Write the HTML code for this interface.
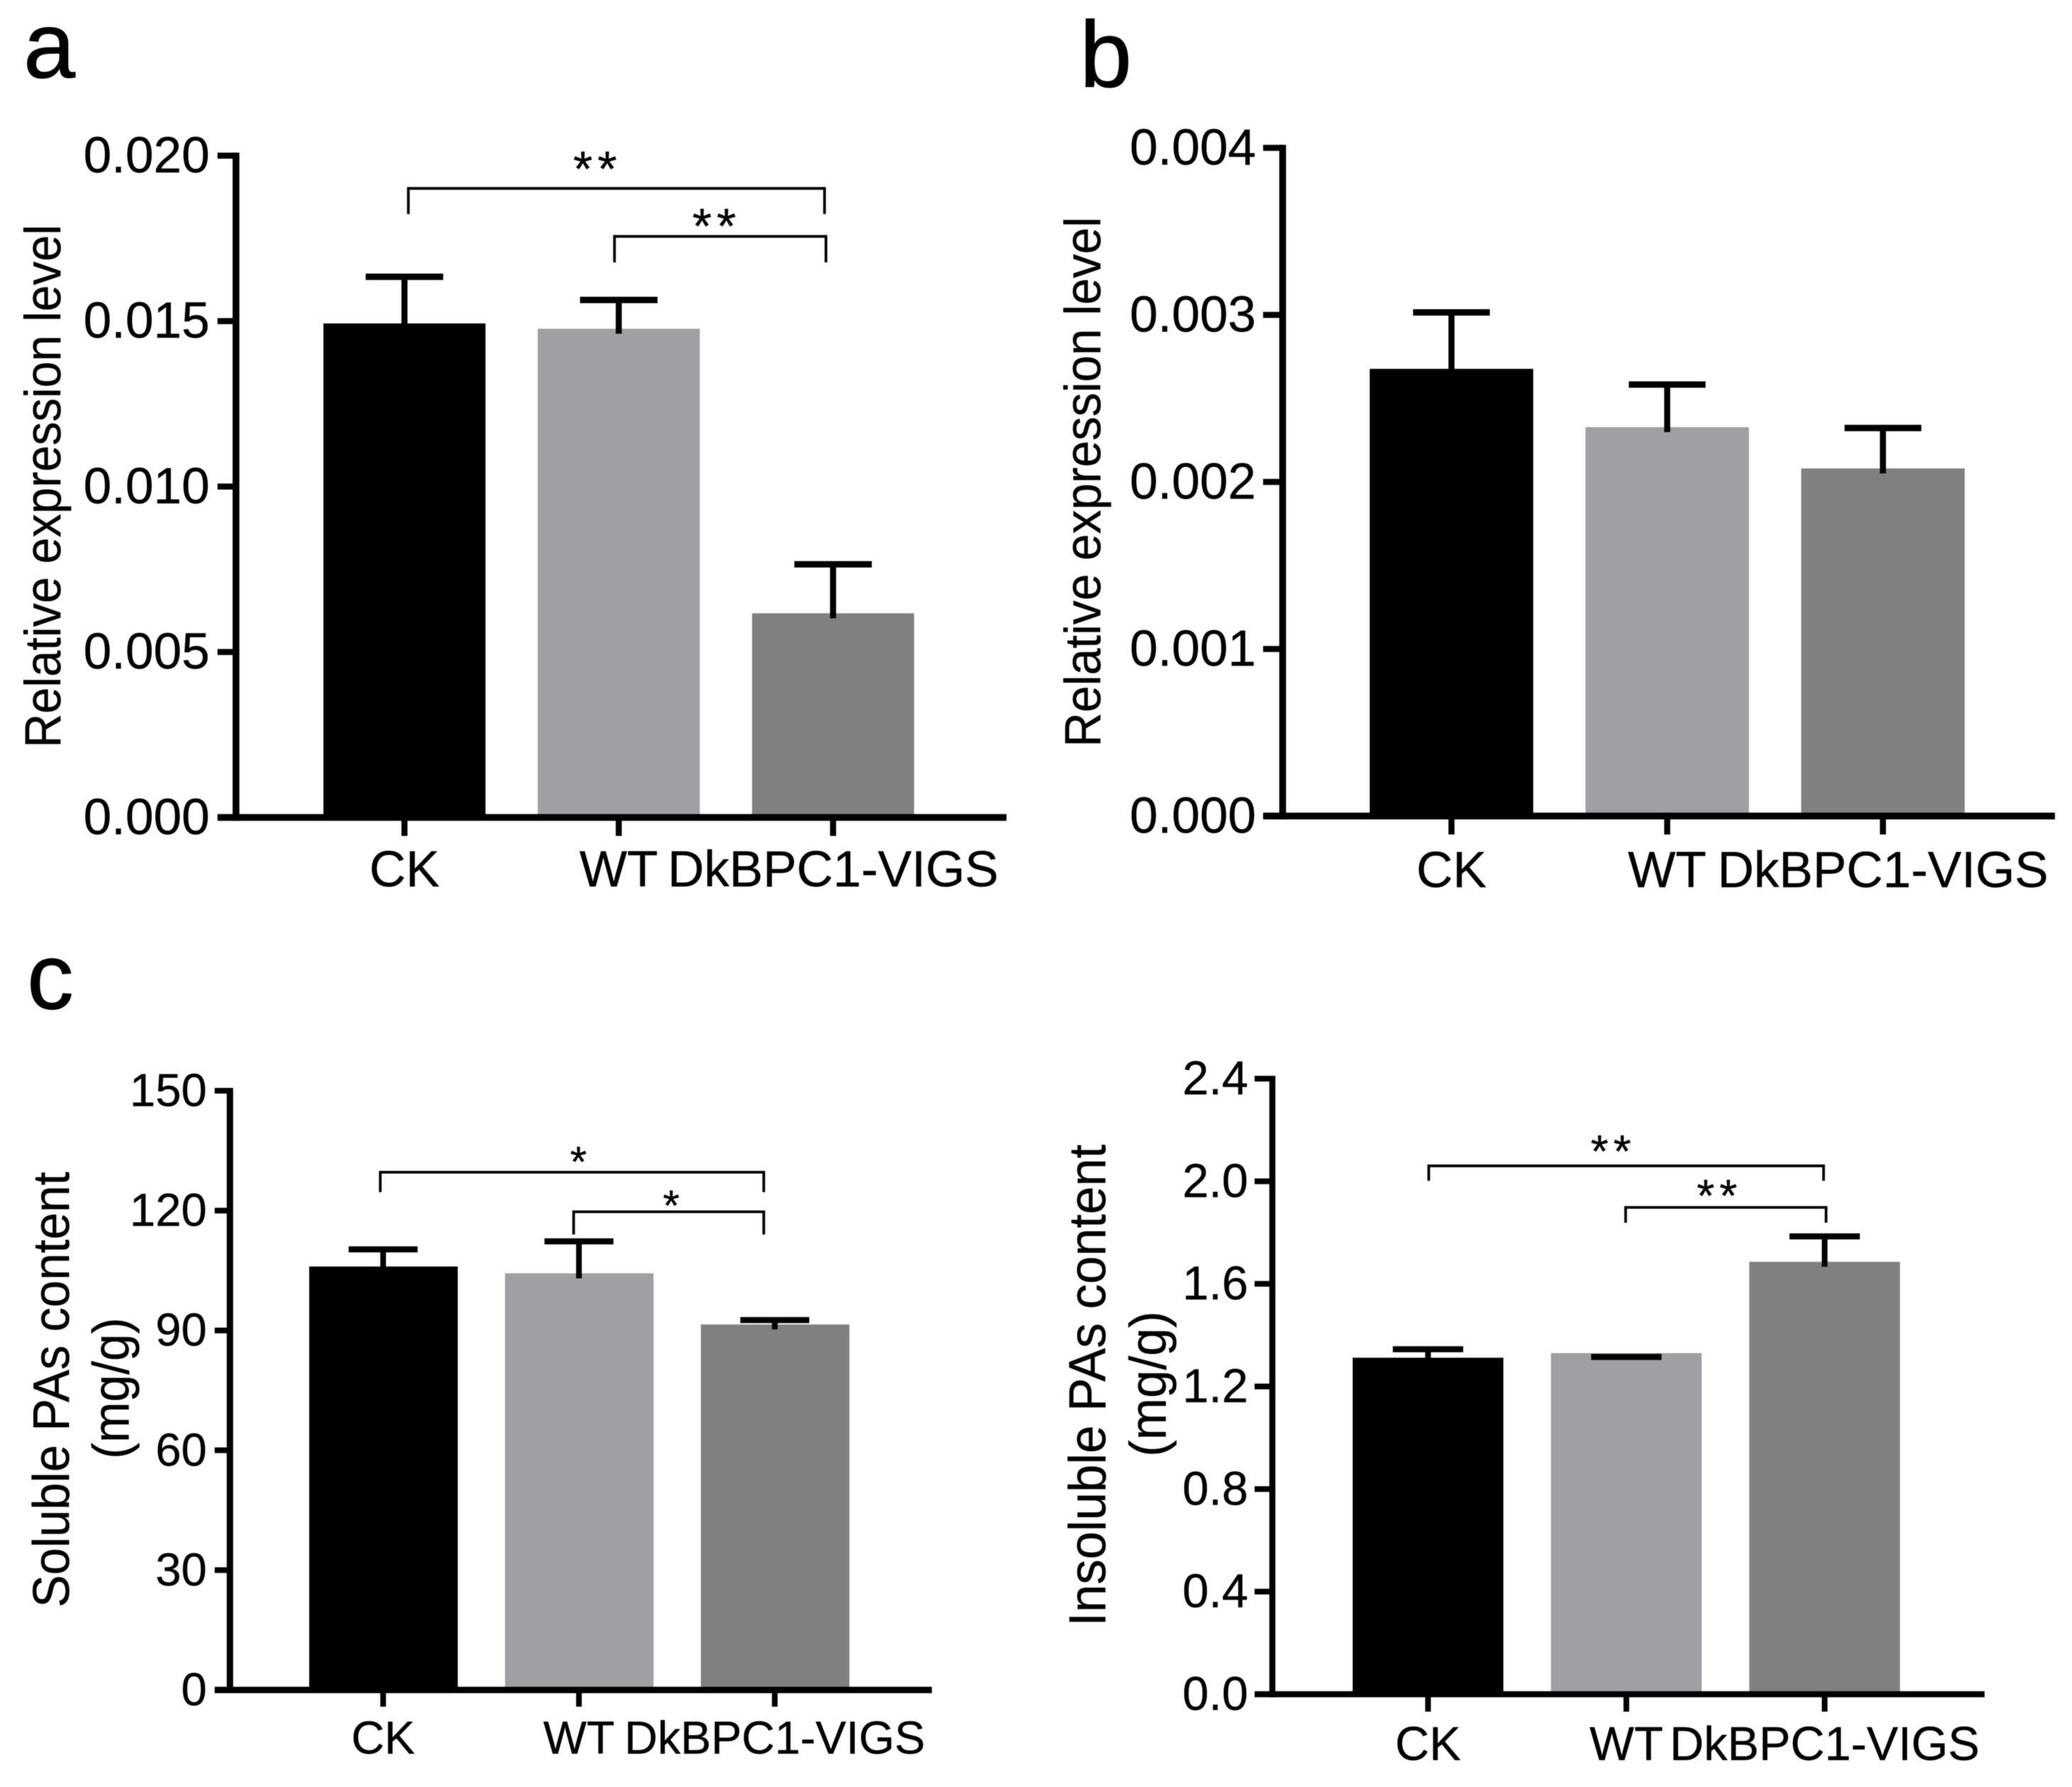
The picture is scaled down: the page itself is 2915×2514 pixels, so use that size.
<!DOCTYPE html>
<html lang="en">
<head>
<meta charset="utf-8">
<title>Relative expression and PAs content</title>
<style>
html,body{margin:0;padding:0;background:#fff;}
svg{display:block;filter:blur(0.6px);}
text{font-family:"Liberation Sans",Arial,sans-serif;fill:#000;stroke:#000;stroke-width:0.4px;}
</style>
</head>
<body>
<svg id="figure" width="2915" height="2514" viewBox="0 0 2915 2514" xmlns="http://www.w3.org/2000/svg">
<rect width="2915" height="2514" fill="#fff"/>
</svg>
<script>
const categories = ['CK', 'WT', 'DkBPC1-VIGS'];
const barColors = ['#000000', '#a0a0a4', '#808080'];

const aTicks = ['0.000', '0.005', '0.010', '0.015', '0.020'];
const aMeans = [0.01493, 0.01477, 0.00617];
const aUppers = [0.01634, 0.01564, 0.00765];

const bTicks = ['0.000', '0.001', '0.002', '0.003', '0.004'];
const bMeans = [0.002677, 0.002328, 0.002081];
const bUppers = [0.003015, 0.002583, 0.002323];

const cTicks = ['0', '30', '60', '90', '120', '150'];
const cMeans = [106, 104.3, 91.5];
const cUppers = [110.3, 112.3, 92.6];

const dTicks = ['0.0', '0.4', '0.8', '1.2', '1.6', '2.0', '2.4'];
const dMeans = [1.312, 1.33, 1.686];
const dUppers = [1.345, 1.315, 1.785];

const svg = document.getElementById('figure');
const NS = 'http://www.w3.org/2000/svg';

function make(tag, attrs, parent) {
  const el = document.createElementNS(NS, tag);
  for (const k in attrs) el.setAttribute(k, attrs[k]);
  parent.appendChild(el);
  return el;
}
function drawLine(parent, x1, y1, x2, y2, w) {
  return make('line', {x1: x1, y1: y1, x2: x2, y2: y2, stroke: '#000', 'stroke-width': w}, parent);
}
function drawText(parent, str, x, y, size, anchor, extra) {
  const el = make('text', Object.assign({x: x, y: y, 'font-size': size, 'text-anchor': anchor}, extra || {}), parent);
  el.textContent = str;
  return el;
}
function rotatedText(parent, str, baselineX, centerY, size, length) {
  const el = make('text', {
    x: 0, y: 0, 'font-size': size, 'text-anchor': 'middle',
    transform: 'translate(' + baselineX + ',' + centerY + ') rotate(-90)',
    textLength: length, lengthAdjust: 'spacingAndGlyphs'
  }, parent);
  el.textContent = str;
  return el;
}

function drawPanel(p, name, ticks, means, uppers) {
  const g = make('g', {}, svg);
  
  
  const max = parseFloat(ticks[ticks.length - 1]);
  p.yScale = v => p.y0 - (v / max) * (p.y0 - p.yTop);
  p.xScale = i => p.x0 + i * p.step;

  means.forEach((m, i) => {
    const top = p.yScale(m);
    const bar = make('rect', {x: p.xScale(i) - p.barOffset, y: top, width: p.barW, height: p.y0 - top, fill: barColors[i]}, g);
    
    
  });

  uppers.forEach((u, i) => {
    const cx = p.xScale(i);
    const capY = p.yScale(u);
    const stem = drawLine(g, cx, capY, cx, p.yScale(means[i]) + 7, p.stemW);
    
    
    const cap = drawLine(g, cx - p.capW / 2, capY, cx + p.capW / 2, capY, p.capH);
    
    
  });

  const yAxis = drawLine(g, p.yAxisX, p.yTop - p.tickW / 2, p.yAxisX, p.y0 + p.axisW / 2, p.axisW);
  
  
  const xAxis = drawLine(g, p.tickLeft, p.y0, p.xRight, p.y0, p.axisW);
  
  

  ticks.forEach(label => {
    const y = p.yScale(parseFloat(label));
    const t = drawLine(g, p.tickLeft, y, p.yAxisX, y, p.tickW);
    
    
    const tl = drawText(g, label, p.tickLabelRight, y + p.tickSize * 0.33, p.tickSize, 'end');
    
    
  });

  categories.forEach((c, i) => {
    const cx = p.xScale(i);
    const t = drawLine(g, cx, p.y0, cx, p.xTickEnd, p.tickW);
    
    
    const tl = drawText(g, c, cx, p.xLabelY, p.xLabelSize, 'middle');
    
    
  });
  p.group = g;
}

function drawBracket(p, fromIdx, toIdx, level, drop, stars, fromOff, toOff, starDx, starDy, starSize) {
  const y = p.yScale(level);
  const x0 = p.xScale(fromIdx) + fromOff;
  const x1 = p.xScale(toIdx) + toOff;
  const path = make('path', {
    d: 'M' + x0 + ' ' + (y + drop) + 'V' + y + 'H' + x1 + 'V' + (y + drop),
    fill: 'none', stroke: '#000', 'stroke-width': 3.8
  }, p.group);
  
  
  const s = drawText(p.group, stars, (x0 + x1) / 2 + starDx, y - starDy + starSize * 0.58, starSize, 'middle', {'letter-spacing': stars.length > 1 ? 7 : 0});
  
  
}

const panelA = {x0: 569, step: 301.5, barW: 228, barOffset: 114, y0: 1150, yTop: 219, yAxisX: 332, tickLeft: 306, xRight: 1416, xTickEnd: 1176, axisW: 9.5, tickW: 8.5, stemW: 8.5, capW: 109, capH: 9, tickSize: 71, tickLabelRight: 295, xLabelSize: 71, xLabelY: 1247};
const panelB = {x0: 2042, step: 303.5, barW: 230, barOffset: 115, y0: 1148, yTop: 208, yAxisX: 1804.5, tickLeft: 1777, xRight: 2891, xTickEnd: 1174, axisW: 9.5, tickW: 8.5, stemW: 8.5, capW: 108, capH: 9, tickSize: 71, tickLabelRight: 1767, xLabelSize: 71, xLabelY: 1248};
const panelC = {x0: 539, step: 275.5, barW: 209, barOffset: 104, y0: 2377.5, yTop: 1534.5, yAxisX: 323.5, tickLeft: 302, xRight: 1311, xTickEnd: 2401, axisW: 9, tickW: 8, stemW: 8, capW: 97, capH: 8.5, tickSize: 65, tickLabelRight: 291, xLabelSize: 64.5, xLabelY: 2467};
const panelD = {x0: 2009, step: 279, barW: 212, barOffset: 106, y0: 2383.5, yTop: 1517.5, yAxisX: 1790, tickLeft: 1765, xRight: 2792, xTickEnd: 2408, axisW: 8.5, tickW: 8, stemW: 8, capW: 99, capH: 8.5, tickSize: 66.5, tickLabelRight: 1756, xLabelSize: 66.5, xLabelY: 2476};

drawPanel(panelA, 'chart-a', aTicks, aMeans, aUppers);
drawPanel(panelB, 'chart-b', bTicks, bMeans, bUppers);
drawPanel(panelC, 'chart-c-soluble', cTicks, cMeans, cUppers);
drawPanel(panelD, 'chart-c-insoluble', dTicks, dMeans, dUppers);

drawBracket(panelA, 0, 2, 0.01901, 36, '**', 5.5, -12, -26.6, 44, 70);
drawBracket(panelA, 1, 2, 0.01756, 36.6, '**', -6, -10, -5, 31, 70);
drawBracket(panelC, 0, 2, 129.6, 28, '*', -4, -15.5, 9, 29, 60);
drawBracket(panelC, 1, 2, 119.7, 32, '*', -7.5, -15.5, 3.5, 23, 60);
drawBracket(panelD, 0, 2, 2.06, 21, '**', 1, -1.5, -18, 36, 64);
drawBracket(panelD, 1, 2, 1.898, 21.5, '**', -1, 2, -9, 32, 64);

const titleA = rotatedText(panelA.group, 'Relative expression level', 85, 684, 71, 736);


const titleB = rotatedText(panelB.group, 'Relative expression level', 1548, 678, 71, 746);


const titleC = rotatedText(panelC.group, 'Soluble PAs content', 97, 1955, 72, 613);


const unitC = rotatedText(panelC.group, '(mg/g)', 181, 1953, 72, 199);


const titleD = rotatedText(panelD.group, 'Insoluble PAs content', 1555, 1949, 73, 678);


const unitD = rotatedText(panelD.group, '(mg/g)', 1640, 1947, 72, 205);



const letterA = drawText(svg, 'a', 33, 109, 131, 'start', {style: 'stroke-width:1px'});


const letterB = drawText(svg, 'b', 1519, 122, 132, 'start', {style: 'stroke-width:1px'});


const letterC = drawText(svg, 'c', 38, 1419, 131, 'start', {style: 'stroke-width:1px'});


</script>
</body>
</html>
